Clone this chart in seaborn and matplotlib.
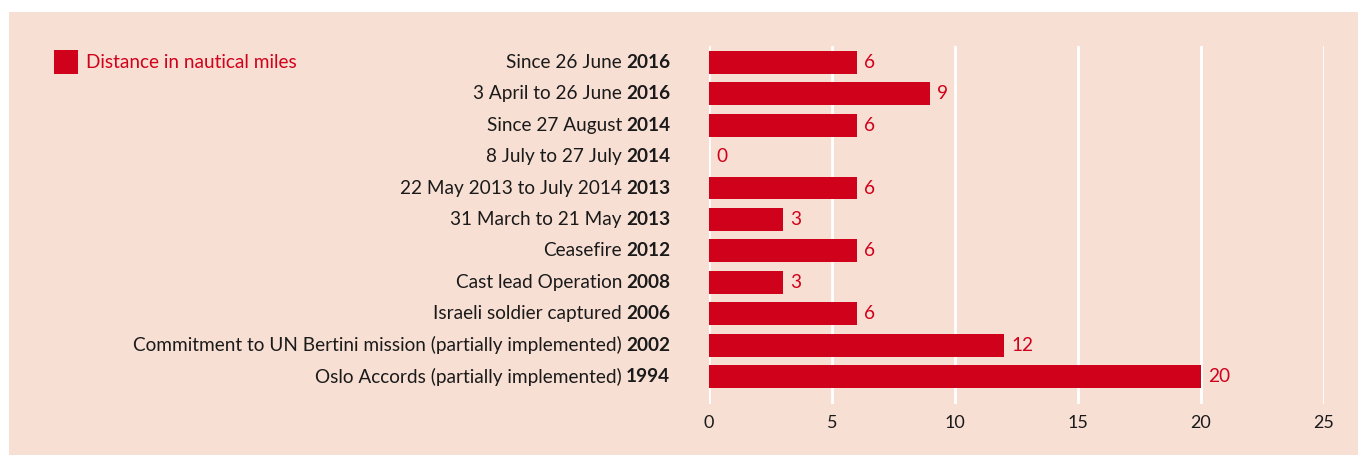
import pandas as pd
import numpy as np
import matplotlib.pyplot as plt
import matplotlib.patches as mpatches
import seaborn as sns

# data
labels = ['Since 26 June', '3 April to 26 June', 'Since 27 August', '8 July to 27 July',
          '22 May 2013 to July 2014', '31 March to 21 May', 'Ceasefire',
          'Cast lead Operation', 'Israeli soldier captured',
          'Commitment to UN Bertini mission (partially implemented)',
          'Oslo Accords (partially implemented)']
years = ['2016', '2016', '2014', '2014', '2013', '2013', '2012', '2008', '2006', '2002', '1994']
values = [6, 9, 6, 0, 6, 3, 6, 3, 6, 12, 20]
x_ticks = [0, 5, 10, 15, 20, 25]
legend_label = 'Distance in nautical miles'

RED = '#d0011b'
BG = '#f8dfd4'
TXT = '#1a1a1a'
FS = 13.7

sns.set_style('white')
plt.rcParams['font.family'] = ['Lato', 'DejaVu Sans']

W, H, DPI = 1358, 455, 100
fig = plt.figure(figsize=(W / DPI, H / DPI), dpi=DPI)
fig.patch.set_facecolor('white')
# peach panel
fig.patches.append(mpatches.Rectangle((9 / W, 0), 1, 1 - 12 / H, transform=fig.transFigure,
                                      facecolor=BG, edgecolor='none', zorder=-10))

ax = fig.add_axes([709 / W, 1 - 404 / H, (1324 - 709) / W, (404 - 46) / H])
ax.set_facecolor('none')
ax.set_zorder(5)

df = pd.DataFrame({'key': [f'{l}|{i}' for i, l in enumerate(labels)], 'value': values})
sns.barplot(data=df, x='value', y='key', orient='h', color=RED, width=0.73,
            saturation=1, linewidth=0, ax=ax, zorder=3)

ax.set_xlim(0, 25)
ax.set_ylim(10.86, -0.51)
ax.set_xticks(x_ticks)
ax.set_xticklabels([str(t) for t in x_ticks], fontsize=FS - 0.7, color=TXT)
ax.tick_params(axis='x', length=0, pad=8)
ax.set_yticks([])
ax.set_xlabel('')
ax.set_ylabel('')
for s in ax.spines.values():
    s.set_visible(False)
for t in x_ticks:
    ax.axvline(t, color='white', lw=2, zorder=1)

# value labels
for i, v in enumerate(values):
    ax.annotate(str(v), xy=(v, i), xytext=(5, 0), textcoords='offset points',
                ha='left', va='center', color=RED, fontsize=FS)

# category labels: regular text + bold year
fig.canvas.draw()
renderer = fig.canvas.get_renderer()
for i, (lab, yr) in enumerate(zip(labels, years)):
    b = ax.annotate(yr, xy=(0, i), xytext=(-39 * 72 / DPI, 0), textcoords='offset points',
                    ha='right', va='center', color=TXT, fontsize=FS, fontweight='bold',
                    annotation_clip=False)
    bw = b.get_window_extent(renderer).width
    ax.annotate(lab, xy=(0, i), xytext=(-(39 + bw + 4) * 72 / DPI, 0), textcoords='offset points',
                ha='right', va='center', color=TXT, fontsize=FS, annotation_clip=False)

# legend
fig.patches.append(mpatches.Rectangle((54 / W, 1 - 74 / H), 24 / W, 24 / H,
                                      transform=fig.transFigure, facecolor=RED,
                                      edgecolor='none', zorder=2))
fig.text(86 / W, 1 - 62 / H, legend_label, color=RED, fontsize=FS, ha='left', va='center')

fig.savefig('out.png', dpi=DPI, facecolor=fig.get_facecolor())
